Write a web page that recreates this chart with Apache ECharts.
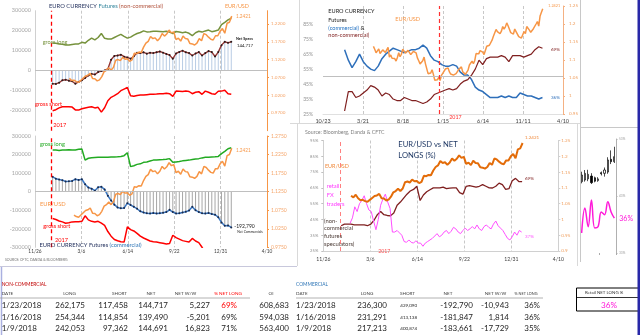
<!DOCTYPE html>
<html><head><meta charset="utf-8">
<script src="https://cdn.jsdelivr.net/npm/echarts@6/dist/echarts.min.js"></script>
<style>html,body{margin:0;padding:0;background:#fff}#c{width:640px;height:335px}</style>
</head><body><div id="c"></div>
<script>
// ---------------- DATA ----------------
// EUR/USD spot, every 5 days from eurStart
const eurStart = '2016-04-29', eurStepDays = 5;
const eurusd = [
1.138,1.130,1.120,1.125,1.131,1.118,1.113,1.128,1.130,1.121,
1.128,1.135,1.108,1.114,1.105,1.110,1.104,1.097,1.107,1.120,
1.109,1.116,1.130,1.132,1.119,1.120,1.127,1.123,1.115,1.119,
1.124,1.122,1.120,1.106,1.098,1.089,1.090,1.098,1.108,1.090,
1.076,1.062,1.059,1.064,1.073,1.060,1.044,1.039,1.045,1.052,
1.043,1.057,1.063,1.066,1.075,1.070,1.078,1.067,1.061,1.062,
1.058,1.056,1.062,1.068,1.074,1.076,1.081,1.067,1.066,1.060,
1.063,1.072,1.086,1.090,1.097,1.090,1.098,1.118,1.120,1.117,
1.126,1.121,1.122,1.115,1.119,1.138,1.137,1.141,1.140,1.155,
1.166,1.171,1.185,1.179,1.181,1.173,1.180,1.193,1.186,1.192,
1.203,1.195,1.198,1.176,1.180,1.172,1.186,1.179,1.178,1.165,
1.164,1.161,1.166,1.179,1.173,1.193,1.190,1.183,1.177,1.175,
1.187,1.187,1.200,1.207,1.194,1.222,1.225,1.2421];

// Weekly CFTC data (Tuesdays) from cotStart
const cotStart = '2017-01-03';
const ncLong = [
138000,137000,134000,132000,129000,128000,131000,133000,134000,142000,
138000,152000,163000,154000,166000,186000,162000,158000,158000,166000,
174000,182000,172000,163000,168000,178000,186000,191000,199000,194000,
195000,197000,197000,196000,195000,197000,193000,186000,196000,194000,
190000,193000,187000,175000,190000,197000,193000,199000,203000,195000,
199000,203000,230000,242053,254344,262175];
const ncShort = [
-200000,-195000,-186000,-180000,-180000,-180000,-182000,-196000,-197000,-190000,
-186000,-183000,-180000,-186000,-183000,-207000,-185000,-150000,-133000,-125000,
-115000,-100000,-92000,-84000,-125000,-128000,-124000,-122000,-122000,-120000,
-118000,-118000,-117000,-115000,-115000,-113000,-115000,-128000,-102000,-103000,
-104000,-102000,-104000,-115000,-108000,-105000,-118000,-102000,-108000,-115000,
-118000,-103000,-102000,-97362,-114854,-117458];
const ncNet = [
-65000,-66000,-60000,-48000,-45000,-50000,-53000,-65000,-56000,-48000,
-36000,-24000,-16000,-19000,-7000,-2000,1000,9000,55000,74000,
76000,80000,70000,66000,60000,72000,90000,88000,92000,85000,
90000,88000,92000,96000,90000,84000,78000,60000,86000,94000,
100000,92000,88000,76000,86000,93000,76000,88000,98000,93000,
71000,93000,127868,144691,139490,144717];
const cmLong = [
224000,224000,222000,225000,224000,226000,224000,225000,228000,230000,
170000,180000,183000,184000,185000,185000,186000,186000,187000,187000,
188000,190000,194000,210000,135000,140000,147000,150000,158000,160000,
165000,170000,171000,172000,173000,175000,178000,158000,160000,162000,
166000,168000,170000,173000,176000,178000,182000,185000,186000,187000,
188000,190000,205000,217213,231291,236300];
const cmShort = [
-145000,-150000,-158000,-163000,-170000,-168000,-163000,-162000,-162000,-160000,
-130000,-152000,-160000,-163000,-160000,-170000,-182000,-215000,-240000,-258000,
-265000,-270000,-272000,-190000,-205000,-212000,-225000,-240000,-250000,-258000,
-266000,-270000,-272000,-275000,-278000,-282000,-280000,-235000,-248000,-256000,
-264000,-268000,-272000,-252000,-266000,-275000,-300000,-330000,-350000,-370000,
-380000,-390000,-395000,-400874,-413138,-429090];
const cmNet = [
80000,70000,65000,62000,55000,56000,58000,67000,63000,67000,
40000,22000,16000,5000,24000,26000,12000,-22000,-48000,-70000,
-85000,-90000,-88000,-62000,-72000,-82000,-92000,-106000,-112000,-116000,
-118000,-115000,-118000,-116000,-114000,-110000,-98000,-110000,-118000,-116000,
-112000,-108000,-102000,-82000,-100000,-110000,-116000,-118000,-115000,-120000,
-124000,-138000,-165932,-183661,-181847,-192790];
// % net long non-commercial, weekly (bottom-right panel)
const ncPctWeekly = [
41,42,42,42,41.5,41.5,41.5,41.5,41,42,
44.5,48,50,48,47.5,47.3,49,54,56,58.5,
61,63,64,66,57,60.5,62.5,63.8,65,65,
65,65.5,64.5,64.8,65,65,62,61,66,66.4,
66,65.5,66,67,66,65,64.9,66,68,67,
64,64.5,69.5,71,69,69];

// Two-weekly % net long, commercial and non-commercial (top-right panel)
const pctStart = '2016-01-12';
const cmPct = [
68,61,56,60,65,60,57,55,54,57,
62,65,67,69,68,67,66,67,68,68,
69,71,69,64,61,60,58,57,57,58,
57,53,51,51,48,43,41,40,38,36,
36,36,37,36,37,36,36,39,38,37,
37,36,35,36];
const ncPct = [
27,40,40,36,37,39,41,44,43,41,
37,39,38,35,34,34,36,35,34,34,
33,32,33,35,38,39,40,41,42,41,
42,45,47,48,51,55,61,58,62,63,
63,63,64,63,60,64,64,64,63,64,
65,68,70,69];

// Retail FX traders % net long, every 5 days
const retailStart = '2017-01-22', retailStepDays = 5;
const retailPct = [
42.6,46,53,50,55,57,60,55,51,50,
44,38.5,45,54,58,61,56,52,37,37,
38,36.5,35,31,30.5,32,30.5,30,31.5,30,
30,28,30,31,32,33,34.5,36,34,35,
37,38,36,37.5,40,39,37,36,38,39.5,
38,39,40.5,39,41.5,39,38,40.5,41.5,40,
39,42,44,41,39.5,38,35.5,33,32,34,
37,35,38,37];

// Mini retail widget
const miniCats = ['1','2','3','4','5','6','7','8','9','10','11'];
const miniOHLC = [ // open, close, low, high
[1.2126,1.2184,1.2111,1.2213],[1.2140,1.2199,1.2126,1.2228],[1.2150,1.2190,1.2130,1.2230],
[1.2175,1.2117,1.2105,1.2200],[1.2160,1.2130,1.2120,1.2170],[1.2135,1.2150,1.2125,1.2165],
[1.2205,1.2195,1.2180,1.2215],[1.2199,1.2228,1.2170,1.2250],[1.2210,1.2316,1.2195,1.2340],
[1.2322,1.2301,1.2280,1.2400],[1.2301,1.2345,1.2290,1.2432]];
const miniRetail = [36.5,40.9,37.6,42.3,37.4,37.6,40.2,39.7,42.0,40.2,39.1];

// Tables
const ncHead = ['DATE','LONG','SHORT','NET','NET W/W','% NET LONG','OI'];
const ncRows = [
 ['1/23/2018','262,175','117,458','144,717','5,227','69%','608,683'],
 ['1/16/2018','254,344','114,854','139,490','-5,201','69%','594,038'],
 ['1/9/2018','242,053','97,362','144,691','16,823','71%','563,400']];
const cmHead = ['DATE','LONG','SHORT','NET','NET W/W','% NET LONG'];
const cmRows = [
 ['1/23/2018','236,300','429,090','-192,790','-10,943','36%'],
 ['1/16/2018','231,291','413,138','-181,847','1,814','36%'],
 ['1/9/2018','217,213','400,874','-183,661','-17,729','35%']];
const retailNow = '36%';

// ---------------- HELPERS ----------------
const FF = 'Lato, sans-serif';
const DAY = 86400000;
function t(s){const p=s.split('-').map(Number);return Date.UTC(p[0],p[1]-1,p[2]);}
function seq(start, step, vals){const s=t(start);return vals.map((v,i)=>[s+i*step*DAY, v]);}
function md(v){const d=new Date(v);return (d.getUTCMonth()+1)+'/'+d.getUTCDate();}
const plain = v => String(Math.round(v));
const eurPts = seq(eurStart, eurStepDays, eurusd);
const eurFrom = s => eurPts.filter(p=>p[0]>=t(s));
const T2017 = t('2017-01-01');

const mctx = document.createElement('canvas').getContext('2d');
function T(x,y,text,fill,size,weight,align){
  return {type:'text',x:x,y:y,silent:true,z:100,
    style:{text:text,fill:fill,font:(weight||'normal')+' '+size+'px '+FF,
      textAlign:align||'left',textVerticalAlign:'middle',align:align||'left',verticalAlign:'middle'}};
}
function segs(x,y,size,parts,weight){
  const out=[];let cx=x;
  parts.forEach(([s,c])=>{out.push(T(cx,y,s,c,size,weight));mctx.font=(weight||'normal')+' '+size+'px '+FF;cx+=mctx.measureText(s).width;});
  return out;
}
function L(x1,y1,x2,y2,c,w){return {type:'line',silent:true,z:90,shape:{x1,y1,x2,y2},style:{stroke:c,lineWidth:w||1}};}

const splitDash = {show:true,showMinLine:false,showMaxLine:false,lineStyle:{color:'#c8c8c8',type:[3,2],width:1}};
function xTime(gi,showLab,fs,margin,extra){
  return Object.assign({type:'value',gridIndex:gi,min:t('2016-11-26'),max:t('2018-04-10'),interval:100*DAY,
    axisLine:{show:false},axisTick:{show:false},
    axisLabel:{show:showLab,formatter:md,color:'#404040',fontSize:fs,margin:margin,fontFamily:FF},
    splitLine:splitDash},extra||{});
}
function yAx(gi,pos,min,max,interval,fmt,color,fs,margin,extra){
  return Object.assign({type:'value',gridIndex:gi,position:pos,min,max,interval,
    axisLine:{show:true,lineStyle:{color:'#d0d0d0'}},axisTick:{show:false},
    axisLabel:{formatter:fmt,color:color,fontSize:fs,margin:margin,fontFamily:FF},
    splitLine:{show:false}},extra||{});
}
const ml = items => ({silent:true,symbol:['none','none'],label:{show:false},animation:false,data:items});
function line(xi,yi,data,color,width,extra){
  return Object.assign({type:'line',xAxisIndex:xi,yAxisIndex:yi,data,symbol:'none',showSymbol:false,
    lineStyle:{color,width},itemStyle:{color},silent:true,z:3},extra||{});
}
const OR = '#f79646';

// ---------------- OPTION ----------------
const option = {
  animation:false,
  textStyle:{fontFamily:FF},
  grid:[
    {left:35,top:10.7,width:232,height:120},
    {left:323,top:6,width:240,height:108},
    {left:35,top:136,width:232,height:111.3},
    {left:323.3,top:140.5,width:235,height:110.5},
    {left:580,top:139,width:36,height:114}
  ],
  xAxis:[
    xTime(0,false,5,3),
    {type:'value',gridIndex:1,min:t('2015-10-23'),max:t('2018-04-10'),interval:150*DAY,
      axisLine:{show:true,onZero:false,lineStyle:{color:'#e0e0e0'}},axisTick:{show:false},
      axisLabel:{formatter:md,color:'#404040',fontSize:5.5,margin:4,fontFamily:FF},splitLine:splitDash},
    xTime(2,true,4.8,2),
    xTime(3,true,5.1,6,{axisLine:{show:true,onZero:false,lineStyle:{color:'#d0d0d0'}}}),
    {type:'category',gridIndex:4,data:miniCats,axisLine:{show:false},axisTick:{show:true,length:2,lineStyle:{color:'#aaa'}},axisLabel:{show:false},splitLine:{show:false}}
  ],
  yAxis:[
    yAx(0,'left',-300000,300000,100000,plain,'#a6a6a6',5.5,4,{axisLabel:{formatter:plain,color:'#a6a6a6',fontSize:5.5,margin:4,showMinLabel:false,fontFamily:FF}}),
    yAx(0,'right',0.92,1.2574,0.05,v=>v.toFixed(4),'#f5a56a',4.6,4,{axisLine:{show:true,lineStyle:{color:OR}},axisTick:{show:true,length:2,lineStyle:{color:OR}},
      axisLabel:{formatter:v=>v.toFixed(4),color:'#f5a56a',fontSize:4.6,margin:4,showMinLabel:false,showMaxLabel:false,fontFamily:FF}}),
    yAx(1,'left',25,97.2,10,v=>v>90?'':Math.round(v)+'%','#909090',5,10,{axisLine:{show:false},axisLabel:{formatter:v=>v>90?'':Math.round(v)+'%',color:'#909090',fontSize:5,margin:10,showMaxLabel:false,fontFamily:FF}}),
    yAx(1,'right',0.95,1.25,0.05,v=>String(+v.toFixed(2)),'#f0a060',4.6,6,{axisLine:{show:true,lineStyle:{color:'#f4b183'}},axisTick:{show:true,length:2,lineStyle:{color:'#f4b183'}}}),
    yAx(2,'left',-300000,300000,100000,plain,'#a6a6a6',5.5,4),
    yAx(2,'right',0.975,1.275,0.05,v=>v.toFixed(4),'#f5a56a',5,4,{axisLine:{show:true,lineStyle:{color:OR}},axisTick:{show:true,length:2,lineStyle:{color:OR}}}),
    yAx(3,'left',25,95,10,v=>Math.round(v)+'%','#909090',4.2,5,{axisTick:{show:true,length:2,lineStyle:{color:'#c0c0c0'}}}),
    yAx(3,'right',0.9,1.25,0.05,v=>String(+v.toFixed(2)),'#f0a060',4.6,3,{axisTick:{show:true,length:2,lineStyle:{color:'#d0d0d0'}}}),
    yAx(4,'right',33,53,10,v=>Math.round(v)+'%','#a0a0a0',3.2,3,{axisLine:{show:true,lineStyle:{color:'#b0b0b0'}},axisTick:{show:true,length:1.5,lineStyle:{color:'#b0b0b0'}}}),
    {type:'value',gridIndex:4,min:1.15,max:1.25,show:false}
  ],
  series:[
    // ---- Panel 1: non-commercial ----
    {type:'bar',xAxisIndex:0,yAxisIndex:0,data:seq(cotStart,7,ncNet),barWidth:1,itemStyle:{color:'#b8cce4'},silent:true,z:1,
      markLine:ml([{yAxis:0,lineStyle:{color:'#bfbfbf',type:'solid',width:1}},{xAxis:T2017,lineStyle:{color:'#ff0000',type:[4,3],width:1.3}}])},
    line(0,0,seq(cotStart,7,ncLong),'#76923c',1.5),
    line(0,0,seq(cotStart,7,ncShort),'#ff0000',1.5),
    line(0,0,seq(cotStart,7,ncNet),'#943634',1.4,{symbol:'circle',symbolSize:2,showSymbol:true,itemStyle:{color:'#2a1a1a'}}),
    line(0,1,eurFrom('2017-02-05'),OR,1.5,{z:4}),
    // ---- Panel 2: % net long ----
    line(1,2,seq(pctStart,14,cmPct),'#2e6fba',1.5,{markLine:ml([{yAxis:50,lineStyle:{color:'#bfbfbf',type:'solid',width:1}},{xAxis:T2017,lineStyle:{color:'#ff3030',type:[4,3],width:1.2}}])}),
    line(1,2,seq(pctStart,14,ncPct),'#7f1f1f',1.2),
    line(1,3,eurPts,OR,1.5,{z:4}),
    // ---- Panel 3: commercial ----
    {type:'bar',xAxisIndex:2,yAxisIndex:4,data:seq(cotStart,7,cmNet),barWidth:1,itemStyle:{color:'#a6a6a6'},silent:true,z:1,
      markLine:ml([{yAxis:0,lineStyle:{color:'#bfbfbf',type:'solid',width:1}},{xAxis:T2017,lineStyle:{color:'#ff0000',type:[4,3],width:1.3}}])},
    line(2,4,seq(cotStart,7,cmLong),'#22aa22',1.5),
    line(2,4,seq(cotStart,7,cmShort),'#ff0000',1.5),
    line(2,4,seq(cotStart,7,cmNet),'#3b78c4',1.5,{symbol:'circle',symbolSize:2,showSymbol:true,itemStyle:{color:'#1a2a4a'}}),
    line(2,5,eurFrom('2017-02-17'),OR,1.5,{z:4}),
    // ---- Panel 4: EUR/USD vs net longs ----
    line(3,6,seq(cotStart,7,ncPctWeekly),'#7f1f1f',1.3,{markLine:ml([{xAxis:T2017,lineStyle:{color:'#ff8080',type:[4,3],width:1}}])}),
    line(3,6,seq(retailStart,retailStepDays,retailPct),'#ff4dff',1),
    line(3,7,eurFrom('2017-01-22'),'#e36c09',2,{z:4}),
    // ---- Mini widget ----
    {type:'candlestick',xAxisIndex:4,yAxisIndex:9,data:miniOHLC,barMaxWidth:2.5,silent:true,
      itemStyle:{color:'#ffffff',color0:'#000000',borderColor:'#000000',borderColor0:'#000000',borderWidth:0.7}},
    line(4,8,miniRetail,'#ff1ad9',1.5,{smooth:0.4})
  ],
  graphic:[]
};

// ---------------- GRAPHIC (frames + texts) ----------------
const G = [];
// frames
G.push(L(299.5,0,299.5,123,'#d9d9d9'));
G.push(L(290,123.5,580,123.5,'#d9d9d9'));
G.push(L(580.5,0,580.5,262,'#c8c8c8'));
G.push(L(580,127.5,638,127.5,'#c8c8c8'));
G.push(L(297.5,123,297.5,266,'#d9d9d9'));
G.push(L(577.5,123,577.5,266,'#d9d9d9'));
G.push(L(0,266.5,297,266.5,'#c8c8dc'));
G.push(L(1.5,267,1.5,335,'#aab0e0',1.5));
G.push({type:'rect',silent:true,z:95,shape:{x:637.5,y:0,width:2.5,height:335},style:{fill:'#2828a8'}});

// Panel 1 texts
G.push(...segs(49,6.5,5.8,[['EURO CURRENCY ','#1f2d5a'],['Futures ','#31849b'],['(non-commercial)','#b0503a']]));
G.push(T(225,6.5,'EUR/USD',OR,5.4));
G.push(T(236,16.7,'1.2421',OR,4.7));
G.push(T(236,39,'Net Specs','#202020',3.8,'bold'));
G.push(T(237,46,'144,717','#202020',4.3));
G.push(T(42.7,42,'gross long','#76923c',5.6));
G.push(T(35,103.7,'gross short','#ff0000',5.6));
G.push(T(53.3,125,'2017','#ff0000',5.6));

// Panel 2 texts
G.push(T(328.3,11.5,'EURO CURRENCY','#1a1a1a',5.6));
G.push(T(328.3,19.8,'Futures','#1a1a1a',5.6));
G.push(...segs(328.3,27.8,5.6,[['(commercial)','#1f6fc0'],[' &','#1a1a1a']]));
G.push(T(328.3,35.4,'non-commercial)','#7f1f1f',5.6));
G.push(T(395.3,19.3,'EUR/USD',OR,5.6));
G.push(T(548.3,6,'1.2421',OR,3.8));
G.push(T(551,50,'69%','#7f1f1f',4.5));
G.push(T(551,98,'36%','#2e6fba',4.5));
G.push(T(449.3,117.3,'2017','#ff3030',5.3));

// Panel 3 texts
G.push(T(40,144,'gross long','#22aa22',5.6));
G.push(T(236,150.7,'1.2421',OR,4.7));
G.push(T(40,204.3,'EUR/USD',OR,5.8));
G.push(T(234.3,226,'-192,790','#202020',5));
G.push(T(237.3,232.3,'Net Commercials','#202020',3.4));
G.push(T(43.3,226,'gross short','#ff0000',5.6));
G.push(T(55,240,'2017','#ff0000',5.6));
G.push(...segs(39.5,245,5.8,[['EURO CURRENCY Futures ','#1f2d5a'],['(commercial)','#2e75b6']]));
G.push(T(5,260,'SOURCE: CFTC, DANDA & BLOOMBERG','#707070',3.4));

// Panel 4 texts
G.push(T(305,132.3,'Source: Bloomberg, Danda & CFTC','#808080',5.2));
G.push(T(398.3,145,'EUR/USD vs NET','#1f3864',7.6));
G.push(T(398.3,155.7,'LONGS (%)','#1f3864',7.6));
G.push(T(325,166.7,'EUR/USD','#f08a3c',5.4));
G.push(T(326.7,186,'retail','#ff3dff',5.8));
G.push(T(326.7,195,'FX','#ff3dff',5.8));
G.push(T(326.7,204,'traders','#ff3dff',5.8));
G.push(T(324,220.7,'(non-','#4a3a34',5.8));
G.push(T(324,228,'commercial','#4a3a34',5.8));
G.push(T(324,236,'futures','#4a3a34',5.8));
G.push(T(324,244,'speculators)','#4a3a34',5.8));
G.push(T(525,137.7,'1.2421','#f08a3c',4.5));
G.push(T(525,179,'69%','#7f1f1f',4.5));
G.push(T(525,236.7,'37%','#ff4dff',4.5));
G.push(T(378.3,251.7,'2017','#ff5050',5.2));

// Mini widget text
G.push(T(619.3,219,retailNow,'#ff1ad9',7));

// Tables
G.push(T(1.7,284.3,'NON-COMMERCIAL','#c00000',4.8));
G.push(T(296,284.3,'COMMERCIAL','#2e75b6',4.8));
const ncHX = [[1.7,'left'],[69.5,'center'],[119.5,'center'],[151,'center'],[185.5,'center'],[228,'center'],[271,'center']];
ncHead.forEach((h,i)=>G.push(T(ncHX[i][0],294,h,i===5?'#ff0000':'#404040',4.6,'normal',ncHX[i][1])));
const cmHX = [[296,'left'],[367,'center'],[407.5,'center'],[448,'center'],[495.5,'center'],[526,'center']];
cmHead.forEach((h,i)=>G.push(T(cmHX[i][0],294,h,'#404040',i===5?3.8:4.6,'normal',cmHX[i][1])));
G.push(L(0,298,250,298,'#a0a0a0',0.8));
G.push(L(296,298,543,298,'#a0a0a0',0.8));
const rowY = [305.7,317.3,328.3];
const ncX = [[1.7,'left'],[85,'right'],[128,'right'],[168,'right'],[210,'right'],[237,'right'],[289,'right']];
ncRows.forEach((r,ri)=>r.forEach((v,ci)=>G.push(T(ncX[ci][0],rowY[ri],v,(ci===5&&ri===0)?'#ff0000':'#262626',8,'normal',ncX[ci][1]))));
const cmX = [[296,'left'],[387,'right'],[417,'right'],[473,'right'],[509,'right'],[540,'right']];
cmRows.forEach((r,ri)=>r.forEach((v,ci)=>G.push(T(cmX[ci][0],rowY[ri],v,'#262626',ci===2?4.5:8,'normal',cmX[ci][1]))));
// Retail box
G.push({type:'rect',silent:true,z:90,shape:{x:576.5,y:288,width:62,height:23},style:{fill:'none',stroke:'#000',lineWidth:1}});
G.push(L(576.5,297.5,638,297.5,'#000',0.8));
G.push(T(585,293,'Retail NET LONG %','#303030',4.4));
G.push(T(601,305.3,retailNow,'#ff1ad9',8.2));

option.graphic = G;
const chart = echarts.init(document.getElementById('c'),null,{renderer:'canvas'});
chart.setOption(option);
</script></body></html>
